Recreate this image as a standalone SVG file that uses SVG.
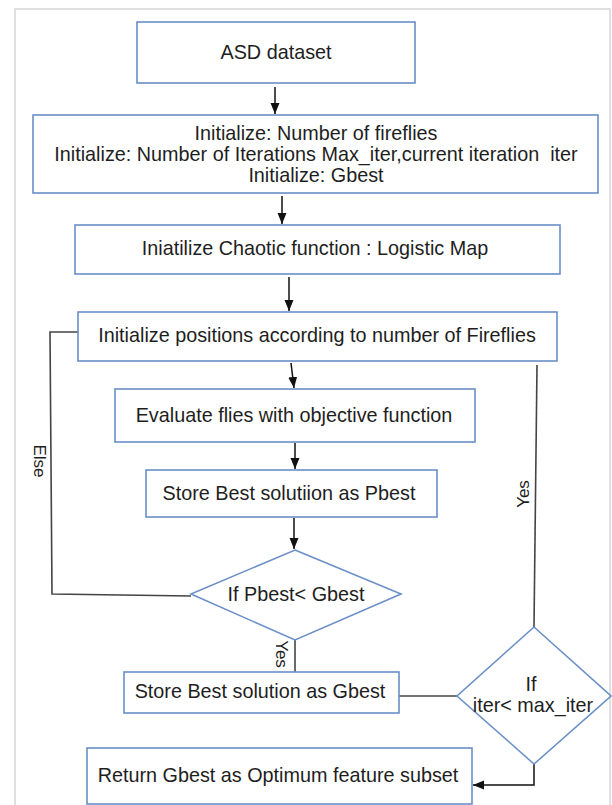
<svg xmlns="http://www.w3.org/2000/svg" width="612" height="805" viewBox="0 0 612 805">
<style>
.box{fill:#fff;stroke:#6a8fc7;stroke-width:1.6}
.t{font-family:"Liberation Sans",Arial,sans-serif;font-size:19.8px;fill:#1e1e1e;text-anchor:middle}
.s{font-family:"Liberation Sans",Arial,sans-serif;font-size:17px;fill:#1e1e1e;text-anchor:middle}
.a{fill:none;stroke:#111;stroke-width:1.5}
.l{fill:none;stroke:#444;stroke-width:1.6}
</style>
<defs>
<marker id="ah" markerUnits="userSpaceOnUse" markerWidth="12" markerHeight="10" refX="11" refY="4.5" orient="auto">
<path d="M0,0 L11,4.5 L0,9 z" fill="#111"/>
</marker>
</defs>
<rect x="0" y="0" width="612" height="805" fill="#fff"/>
<rect x="15" y="9" width="595" height="805" fill="none" stroke="#d6d6d6" stroke-width="1.5"/>

<g id="connectors">
<line class="a" x1="275" y1="87" x2="275" y2="114" marker-end="url(#ah)"/>
<line class="a" x1="282" y1="196" x2="282" y2="224" marker-end="url(#ah)"/>
<line class="a" x1="289" y1="277" x2="289" y2="311" marker-end="url(#ah)"/>
<line class="a" x1="291" y1="363" x2="294" y2="388" marker-end="url(#ah)"/>
<line class="a" x1="295" y1="443" x2="295" y2="469" marker-end="url(#ah)"/>
<line class="a" x1="294" y1="518" x2="294" y2="549" marker-end="url(#ah)"/>
<line class="l" x1="295" y1="640" x2="295" y2="672"/>
<polyline class="l" points="191,596 52,594 50,332 78,332"/>
<line class="l" x1="399" y1="696" x2="457" y2="696"/>
<line class="l" x1="534" y1="627" x2="537" y2="365"/>
<polyline class="a" points="534,764 534,785 473,785" marker-end="url(#ah)"/>
<text class="s" transform="translate(40,461) rotate(90)" dy="0.35em">Else</text>
<text class="s" transform="translate(282,654) rotate(90)" dy="0.35em">Yes</text>
<text class="s" transform="translate(523,494) rotate(-90)" dy="0.35em">Yes</text>
</g>

<g id="n1">
<rect class="box" x="137" y="22" width="278" height="61"/>
<text class="t" x="276" y="59">ASD dataset</text>
</g>
<g id="n2">
<rect class="box" x="33" y="115" width="565" height="78"/>
<text class="t" x="316" y="140">Initialize: Number of fireflies</text>
<text class="t" x="316" y="161" xml:space="preserve" style="white-space:pre">Initialize: Number of Iterations Max_iter,current iteration  iter</text>
<text class="t" x="316" y="182">Initialize: Gbest</text>
</g>
<g id="n3">
<rect class="box" x="75" y="225" width="485" height="49"/>
<text class="t" x="315" y="255">Iniatilize Chaotic function : Logistic Map</text>
</g>
<g id="n4">
<rect class="box" x="78" y="312" width="479" height="49"/>
<text class="t" x="317" y="342">Initialize positions according to number of Fireflies</text>
</g>
<g id="n5">
<rect class="box" x="115" y="389" width="360" height="53"/>
<text class="t" x="294" y="422">Evaluate flies with objective function</text>
</g>
<g id="n6">
<rect class="box" x="146" y="470" width="291" height="47"/>
<text class="t" x="289" y="500">Store Best solutiion as Pbest</text>
</g>
<g id="n7">
<polygon class="box" points="295,550 401,594 295,640 191,594"/>
<text class="t" x="296" y="601">If Pbest&lt; Gbest</text>
</g>
<g id="n8">
<rect class="box" x="124" y="672" width="275" height="41"/>
<text class="t" x="260" y="698">Store Best solution as Gbest</text>
</g>
<g id="n9">
<polygon class="box" points="534,627 611,696 534,764 457,696"/>
<text class="t" x="531" y="691">If</text>
<text class="t" x="533" y="712">iter&lt; max_iter</text>
</g>
<g id="n10">
<rect class="box" x="87" y="748" width="385" height="56"/>
<text class="t" x="278" y="782">Return Gbest as Optimum feature subset</text>
</g>
</svg>
